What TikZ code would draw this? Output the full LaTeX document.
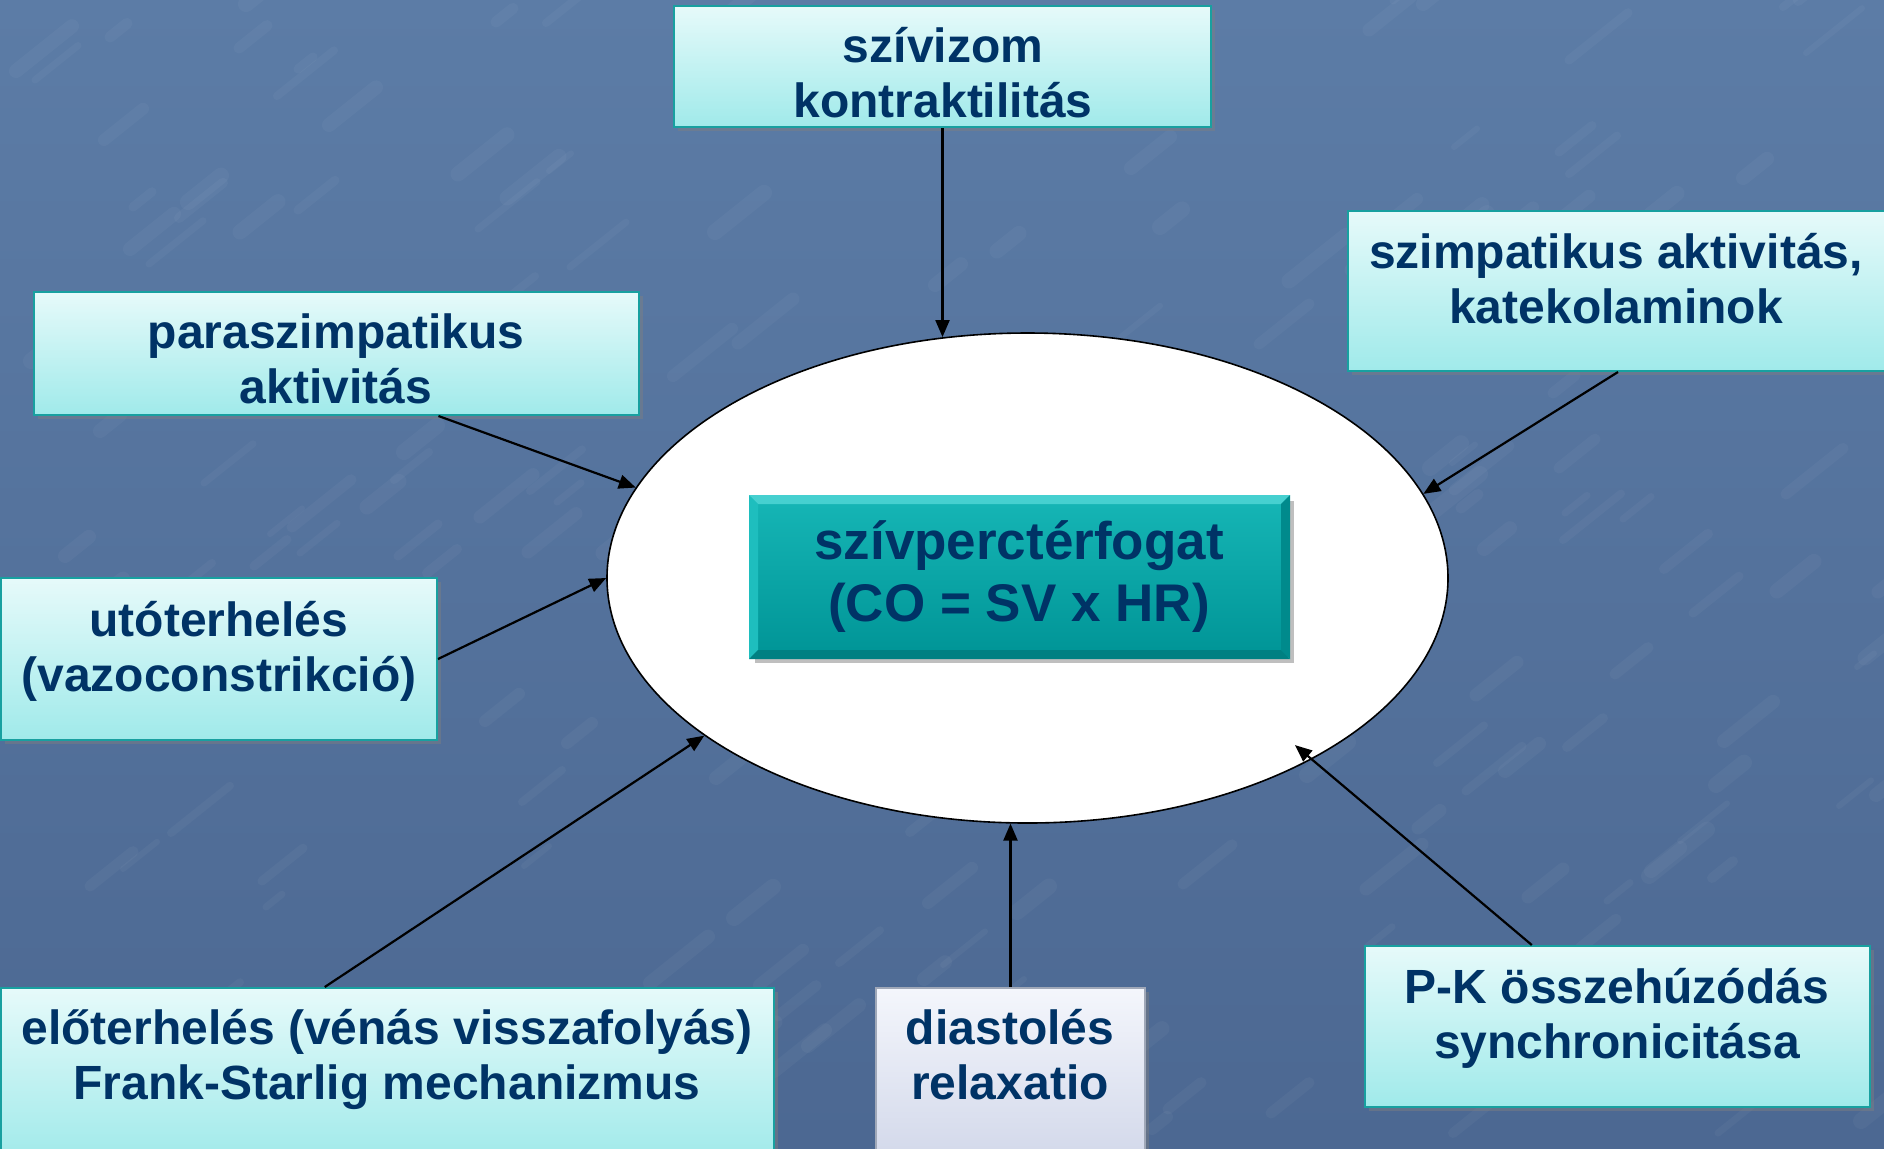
\documentclass[tikz,border=0pt]{standalone}
\usepackage{fontspec}
\setmainfont{Liberation Sans}
\usetikzlibrary{arrows.meta,shapes.geometric,shadows,calc}
\definecolor{navytxt}{RGB}{0,51,102}
\definecolor{bgtop}{RGB}{92,124,166}
\definecolor{bgbot}{RGB}{76,104,146}
\definecolor{cyantop}{RGB}{230,250,250}
\definecolor{cyanbot}{RGB}{160,234,234}
\definecolor{tealline}{RGB}{24,160,160}
\definecolor{ctrtop}{RGB}{22,182,182}
\definecolor{ctrbot}{RGB}{0,148,150}
\definecolor{ctrline}{RGB}{100,206,206}
\definecolor{bevlight}{RGB}{70,208,208}
\definecolor{bevmid}{RGB}{30,190,190}
\definecolor{bevdark}{RGB}{0,128,130}
\definecolor{bevdark2}{RGB}{0,138,140}
\definecolor{lavtop}{RGB}{244,246,252}
\definecolor{lavbot}{RGB}{210,216,234}
\definecolor{lavline}{RGB}{160,168,184}
\newcommand\lnstrut{\rule[-0.3em]{0pt}{1.3em}}
\newcommand\nolsl{\lineskiplimit=-100pt\relax}
\newcommand\lblfont{\fontsize{24}{27.6}\selectfont\bfseries\nolsl}
\newcommand\biglblfont{\fontsize{26.5}{31.2}\selectfont\bfseries\nolsl}
\tikzset{
  cbox/.style={rectangle, draw=tealline, line width=1pt, top color=cyantop, bottom color=cyanbot,
    inner sep=0pt, drop shadow={shadow xshift=2pt, shadow yshift=-2pt, opacity=0.45}},
  lbox/.style={rectangle, draw=lavline, line width=1pt, top color=lavtop, bottom color=lavbot,
    inner sep=0pt, drop shadow={shadow xshift=2pt, shadow yshift=-2pt, opacity=0.45}},
  ctrbox/.style={rectangle, draw=ctrline, line width=1pt, top color=ctrtop, bottom color=ctrbot,
    inner sep=0pt, drop shadow={shadow xshift=2.5pt, shadow yshift=-2.5pt, opacity=0.5}},
  lbl/.style={align=center, inner sep=0pt, text=navytxt, font=\lblfont},
  biglbl/.style={align=center, inner sep=0pt, text=navytxt, font=\biglblfont},
  arr/.style={draw=black, line width=1.1pt, -{Triangle[length=8.5pt,width=7pt]}},
  streak/.style={white, opacity=0.035, line cap=round},
}
\begin{document}
\begin{tikzpicture}[x=0.5pt,y=-0.5pt]
\useasboundingbox (0,0) rectangle (1884,1148);
\fill[top color=bgtop, bottom color=bgbot] (0,0) rectangle (1884,1148);
% faint marbled texture
\pgfmathsetseed{7}
\foreach \i in {1,...,220}{
  \pgfmathsetmacro{\sx}{random(0,1884)}
  \pgfmathsetmacro{\sy}{random(0,1148)}
  \pgfmathsetmacro{\sl}{random(15,60)}
  \pgfmathsetmacro{\sw}{random(6,16)}
  \draw[streak, line width=\sw*0.5pt] (\sx,\sy) -- ++(\sl,-0.8*\sl);
}

% central ellipse and box
\node[ellipse, draw=black, line width=0.8pt, fill=white, minimum width=420.5pt, minimum height=245pt, inner sep=0pt] (el) at (1027.5,578) {};
\node[ctrbox, minimum width=269.5pt, minimum height=81pt] (b8) at (1019.5,577) {};
\fill[bevlight] (b8.north west) -- (b8.north east) -- ($(b8.north east)+(-9,9)$) -- ($(b8.north west)+(9,9)$) -- cycle;
\fill[bevmid] (b8.north west) -- ($(b8.north west)+(9,9)$) -- ($(b8.south west)+(9,-9)$) -- (b8.south west) -- cycle;
\fill[bevdark] (b8.south west) -- ($(b8.south west)+(9,-9)$) -- ($(b8.south east)+(-9,-9)$) -- (b8.south east) -- cycle;
\fill[bevdark2] (b8.north east) -- ($(b8.north east)+(-9,9)$) -- ($(b8.south east)+(-9,-9)$) -- (b8.south east) -- cycle;
\node[biglbl] (t8) at (1019,572) {\lnstrut szívperctérfogat\\\lnstrut (CO = SV x HR)};

% surrounding boxes
\node[cbox, minimum width=268.5pt, minimum height=60.5pt] (b1) at (942.5,66.5) {};
\node[lbl] (t1) at (943,73) {\lnstrut szívizom\\\lnstrut kontraktilitás};

\node[cbox, minimum width=270pt, minimum height=80pt] (b2) at (1618,291) {};
\node[lbl] (t2) at (1616,279) {\lnstrut szimpatikus aktivitás,\\\lnstrut katekolaminok};

\node[cbox, minimum width=302.5pt, minimum height=61.5pt] (b3) at (336.5,353.5) {};
\node[lbl] (t3) at (336,359) {\lnstrut paraszimpatikus\\\lnstrut aktivitás};

\node[cbox, minimum width=218pt, minimum height=81pt] (b4) at (219,659) {};
\node[lbl] (t4) at (219,647) {\lnstrut utóterhelés\\\lnstrut (vazoconstrikció)};

\node[cbox, minimum width=386.5pt, minimum height=86pt] (b5) at (387.5,1074) {};
\node[lbl] (t5) at (387,1055) {\lnstrut előterhelés (vénás visszafolyás)\\\lnstrut Frank-Starlig mechanizmus};

\node[lbox, minimum width=134.5pt, minimum height=86pt] (b6) at (1010.5,1074) {};
\node[lbl] (t6) at (1010,1055) {\lnstrut diastolés\\\lnstrut relaxatio};

\node[cbox, minimum width=252.5pt, minimum height=80.5pt] (b7) at (1617.5,1026.5) {};
\node[lbl] (t7) at (1617,1014) {\lnstrut P-K összehúzódás\\\lnstrut synchronicitása};

% connectors
\coordinate (pk) at ($(el.center)!0.93!(el.328.6)$);
\draw[arr] (b1.south) -- (b1.south |- el.109.4);
\draw[arr] (b2.south) -- (el.12.2);
\draw[arr] ($(b3.south west)!0.668!(b3.south east)$) -- (el.167.8);
\draw[arr] (b4.east) -- (el.west);
\draw[arr] ($(b5.north west)!0.419!(b5.north east)$) -- (el.206.9);
\draw[arr] (b6.north) -- (b6.north |- el.266);
\draw[arr] ($(b7.north west)!0.331!(b7.north east)$) -- (pk);
\end{tikzpicture}
\end{document}
